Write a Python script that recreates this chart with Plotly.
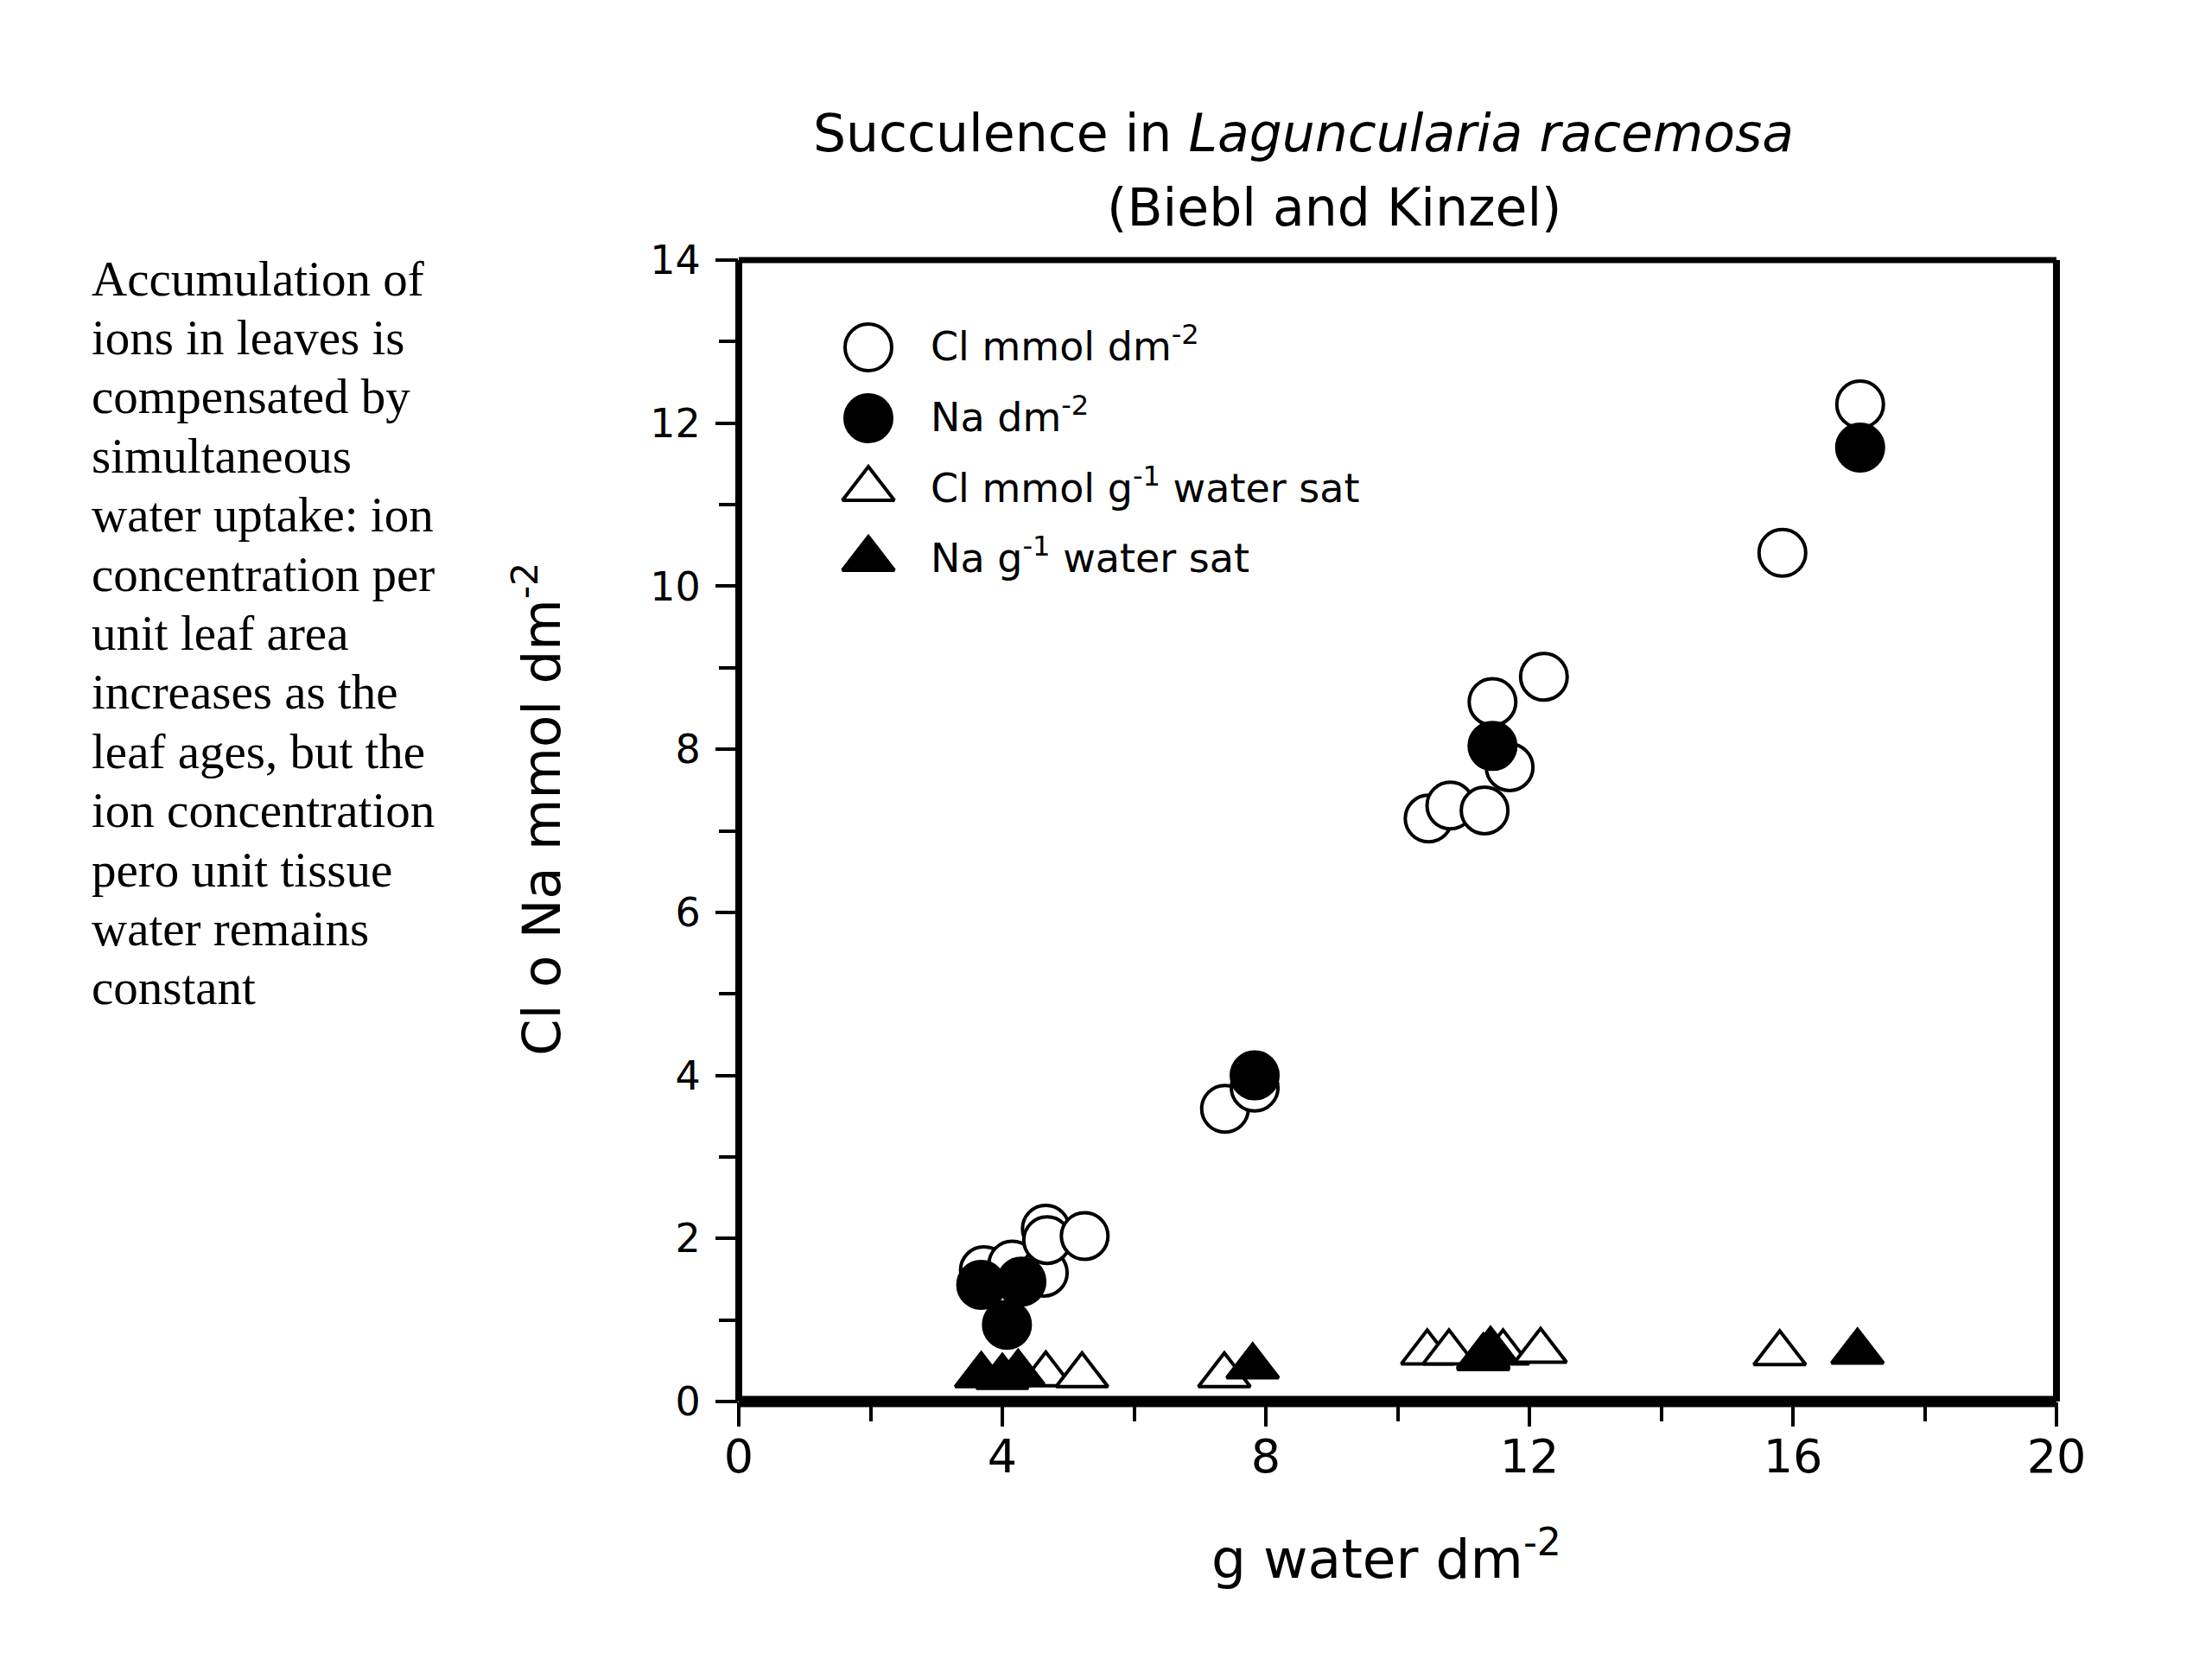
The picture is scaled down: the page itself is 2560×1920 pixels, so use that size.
import plotly.graph_objects as go

# ---------------- data ----------------
cl_area_x = [3.72, 4.15, 4.63, 4.66, 4.68, 5.25, 7.38, 7.83, 10.47, 10.80, 11.32, 11.70, 11.44, 12.22, 15.84, 17.02]
cl_area_y = [1.61, 1.68, 1.58, 2.12, 1.98, 2.03, 3.59, 3.85, 7.15, 7.31, 7.25, 7.78, 8.58, 8.89, 10.41, 12.23]

na_area_x = [3.68, 4.07, 4.29, 7.83, 11.44, 17.02]
na_area_y = [1.43, 0.94, 1.47, 4.00, 8.04, 11.70]

cl_water_x = [4.66, 5.21, 7.37, 10.45, 10.78, 11.30, 11.60, 12.17, 15.80]
cl_water_y = [0.33, 0.32, 0.32, 0.60, 0.60, 0.55, 0.60, 0.62, 0.59]

na_water_x = [3.68, 4.00, 4.24, 7.80, 11.30, 11.41, 16.98]
na_water_y = [0.32, 0.30, 0.35, 0.43, 0.53, 0.63, 0.61]

legend_labels = ["Cl mmol dm<sup>-2</sup>", "Na dm<sup>-2</sup>",
                 "Cl mmol g<sup>-1</sup> water sat", "Na g<sup>-1</sup> water sat"]

title_line1 = "Succulence in <i>Laguncularia racemosa</i>"
title_line2 = "(Biebl and Kinzel)"
x_title = "g water dm<sup>-2</sup>"
y_title = "Cl o Na mmol dm<sup>-2</sup>"
side_lines = ["Accumulation of", "ions in leaves is", "compensated by", "simultaneous",
              "water uptake: ion", "concentration per", "unit leaf area", "increases as the",
              "leaf ages, but the", "ion concentration", "pero unit tissue", "water remains",
              "constant"]

# ---------------- layout geometry ----------------
W, H = 2544, 1904
OFF = 8
L, T = 847, 293
PW, PH = 1525, 1321
R = W - L - PW
B = H - T - PH


def px(X):
    return (X - OFF - L) / PW


def py(Y):
    return 1 - (Y - OFF - T) / PH


SANS = "DejaVu Sans"
SERIF = "Liberation Serif, Times New Roman, serif"

CIRC = 54
TRI = 52
LW = 4

fig = go.Figure()

fig.add_trace(go.Scatter(x=cl_area_x, y=cl_area_y, mode="markers", name="Cl area",
                         marker=dict(symbol="circle", size=CIRC, color="white",
                                     line=dict(color="black", width=LW))))
fig.add_trace(go.Scatter(x=na_area_x, y=na_area_y, mode="markers", name="Na area",
                         marker=dict(symbol="circle", size=CIRC, color="black",
                                     line=dict(color="black", width=LW))))
fig.add_trace(go.Scatter(x=cl_water_x, y=cl_water_y, mode="markers", name="Cl water",
                         marker=dict(symbol="triangle-up", size=TRI, color="white",
                                     line=dict(color="black", width=LW))))
fig.add_trace(go.Scatter(x=na_water_x, y=na_water_y, mode="markers", name="Na water",
                         marker=dict(symbol="triangle-up", size=TRI, color="black",
                                     line=dict(color="black", width=LW))))

# custom legend (symbols on an overlay axis in plot-fraction units)
leg_sym_x = px(1005)
leg_rows_y = [py(402), py(484), py(566), py(647)]
leg_symbols = ["circle", "circle", "triangle-up", "triangle-up"]
leg_fill = ["white", "black", "white", "black"]
leg_sizes = [CIRC, CIRC, TRI, TRI]
for sym, fc, yy, sz in zip(leg_symbols, leg_fill, leg_rows_y, leg_sizes):
    fig.add_trace(go.Scatter(x=[leg_sym_x], y=[yy], xaxis="x2", yaxis="y2", mode="markers",
                             marker=dict(symbol=sym, size=sz, color=fc,
                                         line=dict(color="black", width=LW)),
                             hoverinfo="skip"))

annotations = []
for lab, yy in zip(legend_labels, [py(398), py(480), py(562), py(643)]):
    annotations.append(dict(text=lab, xref="paper", yref="paper", x=px(1075), y=yy,
                            xanchor="left", yanchor="middle", showarrow=False,
                            font=dict(family=SANS, size=46, color="black")))

annotations += [
    dict(text=title_line1, xref="paper", yref="paper", x=px(1508), y=py(154),
         xanchor="center", yanchor="middle", showarrow=False,
         font=dict(family=SANS, size=60, color="black")),
    dict(text=title_line2, xref="paper", yref="paper", x=px(1544), y=py(240),
         xanchor="center", yanchor="middle", showarrow=False,
         font=dict(family=SANS, size=60, color="black")),
    dict(text=x_title, xref="paper", yref="paper", x=px(1604), y=py(1800),
         xanchor="center", yanchor="middle", showarrow=False,
         font=dict(family=SANS, size=63, color="black")),
    dict(text=y_title, xref="paper", yref="paper", x=px(622), y=py(937),
         xanchor="center", yanchor="middle", showarrow=False, textangle=-90,
         font=dict(family=SANS, size=61, color="black")),
]

# side text, one annotation per line for exact spacing
LINE0 = 322
LSTEP = 68.4
for i, line in enumerate(side_lines):
    annotations.append(dict(text=line, xref="paper", yref="paper", x=px(104),
                            y=py(LINE0 + i * LSTEP), xanchor="left", yanchor="middle",
                            showarrow=False,
                            font=dict(family=SERIF, size=57, color="black")))

# frame lines: left/top/right thinner, bottom thicker
shapes = [
    dict(type="line", xref="paper", yref="paper", x0=0, x1=0, y0=0, y1=1,
         line=dict(color="black", width=8)),
    dict(type="line", xref="paper", yref="paper", x0=0, x1=1, y0=1, y1=1,
         line=dict(color="black", width=7)),
    dict(type="line", xref="paper", yref="paper", x0=1, x1=1, y0=0, y1=1,
         line=dict(color="black", width=8)),
    dict(type="line", xref="paper", yref="paper", x0=0, x1=1, y0=0, y1=0,
         line=dict(color="black", width=13)),
]

fig.update_layout(
    width=W, height=H, autosize=False,
    margin=dict(l=L, r=R, t=T, b=B, pad=0),
    paper_bgcolor="white", plot_bgcolor="white",
    showlegend=False,
    annotations=annotations,
    shapes=shapes,
    xaxis=dict(range=[0, 20], tickvals=[0, 4, 8, 12, 16, 20], ticks="outside",
               ticklen=28, tickwidth=4, tickcolor="black", showgrid=False, zeroline=False,
               showline=False, ticklabelstandoff=-12,
               minor=dict(tickvals=[2, 6, 10, 14, 18], ticks="outside", ticklen=22,
                          tickwidth=4, tickcolor="black", showgrid=False),
               tickfont=dict(family=SANS, size=54, color="black")),
    yaxis=dict(range=[0, 14], tickvals=[0, 2, 4, 6, 8, 10, 12, 14], ticks="outside",
               ticklen=26, tickwidth=4, tickcolor="black", showgrid=False, zeroline=False,
               showline=False, ticklabelstandoff=8,
               minor=dict(tickvals=[1, 3, 5, 7, 9, 11, 13], ticks="outside", ticklen=22,
                          tickwidth=4, tickcolor="black", showgrid=False),
               tickfont=dict(family=SANS, size=46, color="black")),
    xaxis2=dict(range=[0, 1], overlaying="x", visible=False, fixedrange=True),
    yaxis2=dict(range=[0, 1], overlaying="y", visible=False, fixedrange=True),
)

fig.write_html("out.html")
